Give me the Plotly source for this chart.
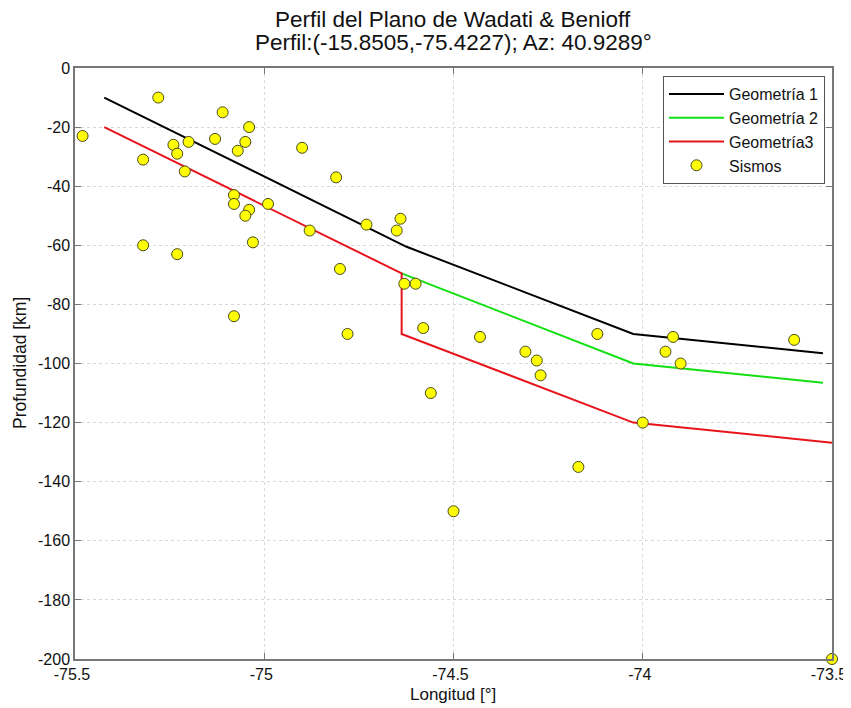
import plotly.graph_objects as go

# Geometry lines (longitude, depth)
geo1_lon = [-75.4227, -74.624, -74.025, -73.524]
geo1_dep = [-10, -60.5, -90, -96.5]
geo2_lon = [-74.637, -74.025, -73.524]
geo2_dep = [-69.5, -100, -106.5]
geo3_lon = [-75.4227, -74.637, -74.637, -74.025, -73.5]
geo3_dep = [-20, -69.5, -90, -120, -126.8]

# Earthquakes
sis_lon = [-75.48, -75.28, -75.32, -75.32, -75.24, -75.23, -75.20, -75.21, -75.23,
           -75.11, -75.13, -75.04, -75.05, -75.07, -75.08, -75.08, -75.04, -75.05,
           -75.03, -74.99, -75.08, -74.90, -74.81, -74.88, -74.73, -74.64, -74.65,
           -74.80, -74.63, -74.60, -74.78, -74.58, -74.56, -74.43, -74.31, -74.28,
           -74.27, -74.12, -74.00, -73.92, -73.94, -73.90, -73.60, -74.50, -74.17,
           -73.50]
sis_dep = [-23, -10, -31, -60, -26, -29, -25, -35, -63,
           -15, -24, -20, -25, -28, -43, -46, -48, -50,
           -59, -46, -84, -27, -37, -55, -53, -51, -55,
           -68, -73, -73, -90, -88, -110, -91, -96, -99,
           -104, -90, -120, -91, -96, -100, -92, -150, -135,
           -200]

x_ticks = [-75.5, -75, -74.5, -74, -73.5]
x_tick_text = ["-75.5", "-75", "-74.5", "-74", "-73.5"]
y_ticks = [0, -20, -40, -60, -80, -100, -120, -140, -160, -180, -200]
y_tick_text = ["0", "-20", "-40", "-60", "-80", "-100", "-120", "-140", "-160", "-180", "-200"]

title_lines = ["Perfil del Plano de Wadati & Benioff",
               "Perfil:(-15.8505,-75.4227); Az: 40.9289°"]
x_title = "Longitud [°]"
y_title = "Profundidad [km]"

fig = go.Figure()
fig.add_trace(go.Scatter(x=geo1_lon, y=geo1_dep, mode="lines", name="Geometría 1",
                         line=dict(color="black", width=2)))
fig.add_trace(go.Scatter(x=geo2_lon, y=geo2_dep, mode="lines", name="Geometría 2",
                         line=dict(color="#12e012", width=2)))
fig.add_trace(go.Scatter(x=geo3_lon, y=geo3_dep, mode="lines", name="Geometría3",
                         line=dict(color="#e8141c", width=2)))
fig.add_trace(go.Scatter(x=sis_lon, y=sis_dep, mode="markers", name="Sismos",
                         marker=dict(color="#ffff00", size=11,
                                     line=dict(color="#4a4a20", width=1)),
                         cliponaxis=False))

font = "Liberation Sans, Arial, sans-serif"
W, H = 843, 700
L, R, T, B = 67, 19, 60, 49
pw = W - L - R
ph = H - T - B

def py(ypx):
    return (H - B - ypx) / ph

def px(xpx):
    return (xpx - L) / pw

for i, txt in enumerate(title_lines):
    fig.add_annotation(text=txt, xref="paper", yref="paper", x=px(445),
                       y=py(11 + 24 * i), xanchor="center", yanchor="middle",
                       showarrow=False, font=dict(family=font, size=22.5, color="#111"))
fig.add_annotation(text=x_title, xref="paper", yref="paper", x=px(445), y=py(686),
                   xanchor="center", yanchor="middle", showarrow=False,
                   font=dict(family=font, size=17, color="#111"))
fig.add_annotation(text=y_title, xref="paper", yref="paper", x=px(12), y=py(355),
                   xanchor="center", yanchor="middle", showarrow=False, textangle=-90,
                   font=dict(family=font, size=17.5, color="#111"))

fig.update_layout(
    width=W, height=H,
    margin=dict(l=L, r=R, t=T, b=B, autoexpand=False),
    paper_bgcolor="white", plot_bgcolor="white",
    font=dict(family=font, size=16, color="#222"),
    showlegend=True,
    legend=dict(x=px(817), y=py(68), xanchor="right", yanchor="top",
                bgcolor="white", bordercolor="#555", borderwidth=1,
                font=dict(family=font, size=16, color="#111"),
                tracegroupgap=0, itemwidth=55),
)
fig.update_xaxes(range=[-75.5, -73.5], tickvals=x_ticks, ticktext=x_tick_text,
                 automargin=False, ticklabelshift=-3,
                 showgrid=True, gridcolor="#d8d8d8", griddash="dot", gridwidth=1,
                 showline=True, linecolor="#777", linewidth=1.5, mirror="ticks",
                 ticks="inside", ticklen=6, tickcolor="#777", zeroline=False,
                 tickfont=dict(size=16, color="#111"))
fig.update_yaxes(range=[-200, 0], tickvals=y_ticks, ticktext=y_tick_text,
                 automargin=False,
                 showgrid=True, gridcolor="#d8d8d8", griddash="dot", gridwidth=1,
                 showline=True, linecolor="#777", linewidth=1.5, mirror="ticks",
                 ticks="inside", ticklen=6, tickcolor="#777", zeroline=False,
                 tickfont=dict(size=16, color="#111"))

fig.write_html("out.html")
